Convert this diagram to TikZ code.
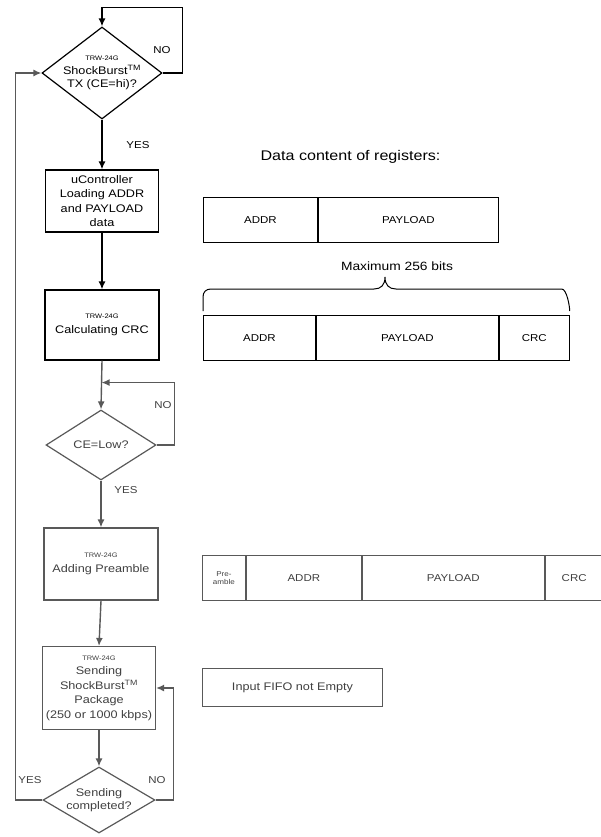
\documentclass[tikz,border=0pt]{standalone}
\usepackage{fontspec}
\setmainfont[FakeStretch=1.15]{Liberation Sans}
\usetikzlibrary{shapes.geometric,arrows.meta}

\newcommand{\chipname}{{\fontsize{6.5}{8}\selectfont TRW-24G}}
\newcommand{\sbtm}{ShockBurst\textsuperscript{TM}}

\tikzset{
	flowbox/.style = {draw, line width=1.2pt, align=center, inner sep=2pt,
			font=\fontsize{11}{14.5}\selectfont},
	decision/.style = {draw, diamond, aspect=1.3, line width=1.2pt, align=center,
			inner xsep=-8pt, inner ysep=0pt, font=\fontsize{11}{13.5}\selectfont},
	flow/.style = {line width=1.4pt, -{Latex[length=8pt,width=7pt]}},
	faded/.style = {draw=black!65, text=black!75},
	answer/.style = {font=\fontsize{10}{12}\selectfont},
	field/.style = {draw, line width=0.9pt, minimum height=45pt, inner sep=0pt,
			font=\fontsize{10}{12}\selectfont}
}

\begin{document}
\begin{tikzpicture}[x=1pt, y=-1pt]
	\useasboundingbox (0,0) rectangle (600,837);

	% flow chart, top to bottom
	\node[decision, minimum width=120pt, minimum height=92pt] (tx) at (102,73)
		{\chipname\\ \sbtm\\ TX (CE=hi)?};
	\node[flowbox, minimum width=113pt, minimum height=62pt] (load) at (102,201)
		{uController\\ Loading ADDR\\ and PAYLOAD\\ data};
	\node[flowbox, minimum width=114pt, minimum height=70pt] (crc) at (102,325)
		{\chipname\\ Calculating CRC};
	\node[decision, faded, minimum width=110pt, minimum height=70pt] (celow) at (101,445)
		{CE=Low?};
	\node[flowbox, faded, minimum width=114pt, minimum height=72pt] (pre) at (101,564)
		{\chipname\\ Adding Preamble};
	\node[flowbox, faded, minimum width=113pt, minimum height=83pt] (send) at (99,688)
		{\chipname\\ Sending\\ \sbtm\\ Package\\ (250 or 1000 kbps)};
	\node[decision, faded, minimum width=112pt, minimum height=66pt] (done) at (99,800)
		{Sending\\ completed?};

	\draw[flow] (tx.east) -- ++(20,0) |- ([yshift=19pt]tx.north) -- (tx.north);
	\draw[flow] (tx.south) -- (load.north);
	\draw[flow] (load.south) -- (crc.north);
	\path (crc.south) -- (celow.north) coordinate[pos=.45] (merge);
	\draw[flow, black!65] (crc.south) -- (celow.north);
	\draw[flow, black!65] (celow.east) -- ++(18,0) |- (merge);
	\draw[flow, black!65] (celow.south) -- (pre.north);
	\draw[flow, black!65] (pre.south) -- (send.north);
	\draw[flow, black!65] (send.south) -- (done.north);
	\draw[flow, black!65] (done.east) -- ++(18,0) |- (send.east);
	\draw[flow, black!65] (done.west) -- ++(-27,0) |- (tx.west);

	\node[answer] (no1) at (162,50) {NO};
	\node[answer] (yes1) at (138,145) {YES};
	\node[answer, black!75] (no2) at (163,405) {NO};
	\node[answer, black!75] (yes2) at (126,490) {YES};
	\node[answer, black!75] (yes3) at (30,780) {YES};
	\node[answer, black!75] (no3) at (157,780) {NO};

	% register contents
	\node[anchor=west, font=\fontsize{14}{16}\selectfont] (title) at (257,157)
		{Data content of registers:};

	\node[field, anchor=north west, minimum width=114pt] (addr1) at (203,197) {ADDR};
	\node[field, anchor=north west, minimum width=180pt] (pay1) at (addr1.north east) {PAYLOAD};

	\node[field, anchor=north west, minimum width=112pt] (addr2) at (203,315) {ADDR};
	\node[field, anchor=north west, minimum width=182pt] (pay2) at (addr2.north east) {PAYLOAD};
	\node[field, anchor=north west, minimum width=70pt] (crc2) at (pay2.north east) {CRC};

	\draw[line width=1pt] ([yshift=4pt]addr2.north west) -- ++(0,-14)
		.. controls ++(0,-5) and ++(-5,0) .. ++(8,-8) -- (374,289)
		.. controls (381,289) and (385,285) .. (385,277)
		.. controls (385,285) and (389,289) .. (396,289)
		-- ([xshift=-8pt,yshift=26pt]crc2.north east)
		.. controls ++(5,0) and ++(0,-5) .. ([yshift=4pt]crc2.north east);
	\node[font=\fontsize{12}{14}\selectfont] (maxbits) at (397,266) {Maximum 256 bits};

	\node[field, faded, anchor=north west, minimum width=43pt, align=center,
		font=\fontsize{7}{8}\selectfont] (pre3) at (202,555) {Pre-\\amble};
	\node[field, faded, anchor=north west, minimum width=115pt] (addr3) at (pre3.north east) {ADDR};
	\node[field, faded, anchor=north west, minimum width=182pt] (pay3) at (addr3.north east) {PAYLOAD};
	\node[field, faded, anchor=north west, minimum width=58pt] (crc3) at (pay3.north east) {CRC};

	\node[field, faded, anchor=north west, minimum width=180pt, minimum height=38pt,
		font=\fontsize{11}{13}\selectfont] (fifo) at (202,668) {Input FIFO not Empty};
\end{tikzpicture}
\end{document}
